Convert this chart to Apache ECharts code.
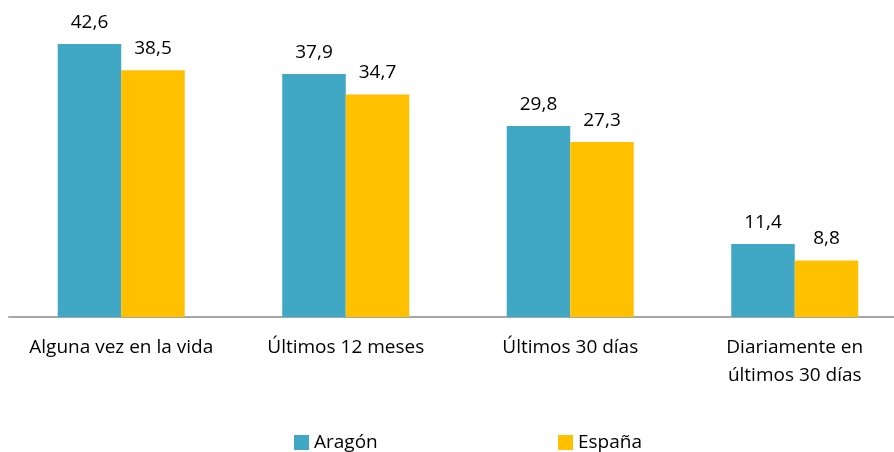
<!DOCTYPE html>
<html>
<head>
<meta charset="utf-8">
<script src="https://cdn.jsdelivr.net/npm/echarts@6/dist/echarts.min.js"></script>
<style>
  html, body { margin: 0; padding: 0; background: #fff; }
  #chart { width: 894px; height: 452px; }
</style>
</head>
<body>
<div id="chart"></div>
<script>
const categories = [
  "Alguna vez en la vida",
  "Últimos 12 meses",
  "Últimos 30 días",
  "Diariamente en\núltimos 30 días"
];
const aragon = [42.6, 37.9, 29.8, 11.4];
const espana = [38.5, 34.7, 27.3, 8.8];

const font = "'Open Sans', sans-serif";
const fmt = p => p.value.toFixed(1).replace(".", ",");

let chart = echarts.init(document.getElementById("chart"));
chart.setOption({
  backgroundColor: "#fff",
  animation: false,
  textStyle: { fontFamily: font },
  grid: {
    left: 9,
    width: 898,
    top: 28.5,
    bottom: 135,
    outerBoundsMode: "none",
    containLabel: false
  },
  legend: [
    {
      data: ["Aragón"],
      left: 289,
      top: 428,
      icon: "rect",
      itemWidth: 15,
      itemHeight: 15,
      textStyle: { fontSize: 19, color: "#000", fontFamily: font }
    },
    {
      data: ["España"],
      left: 553,
      top: 428,
      icon: "rect",
      itemWidth: 15,
      itemHeight: 15,
      textStyle: { fontSize: 19, color: "#000", fontFamily: font }
    }
  ],
  xAxis: {
    type: "category",
    data: categories,
    axisLine: {
      show: true,
      lineStyle: { color: "#a6a6a6", width: 2 }
    },
    axisTick: { show: false },
    axisLabel: {
      interval: 0,
      margin: 17,
      fontSize: 19,
      lineHeight: 28,
      color: "#000",
      fontFamily: font
    }
  },
  yAxis: {
    type: "value",
    min: 0,
    max: 45,
    show: false,
    splitLine: { show: false }
  },
  series: [
    {
      name: "Aragón",
      type: "bar",
      data: aragon,
      barWidth: 63.5,
      barGap: "0%",
      itemStyle: { color: "#40a7c4" },
      label: {
        show: true,
        position: "top",
        distance: 12,
        fontSize: 19,
        color: "#000",
        fontFamily: font,
        formatter: fmt
      }
    },
    {
      name: "España",
      type: "bar",
      data: espana,
      barWidth: 63.5,
      barGap: "0%",
      itemStyle: { color: "#ffc000" },
      label: {
        show: true,
        position: "top",
        distance: 12,
        fontSize: 19,
        color: "#000",
        fontFamily: font,
        formatter: fmt
      }
    }
  ]
});
</script>
</body>
</html>
